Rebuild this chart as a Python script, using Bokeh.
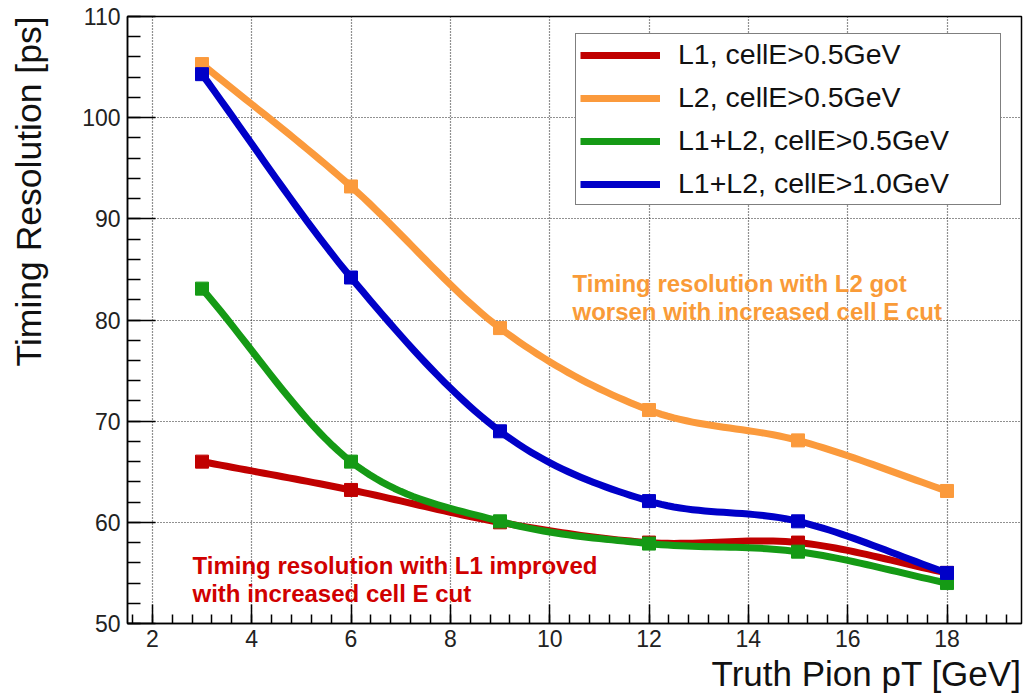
import numpy as np
from bokeh.plotting import figure
from bokeh.models import (SingleIntervalTicker, Label, Legend, LegendItem, Title)
from bokeh.embed import file_html
from bokeh.resources import INLINE

# ---------------- data ----------------
pt = [3, 6, 9, 12, 15, 18]
l1_05 = [66.0, 63.2, 60.0, 58.0, 58.0, 55.0]
l2_05 = [105.3, 93.2, 79.2, 71.1, 68.1, 63.1]
l12_05 = [83.1, 66.0, 60.1, 57.9, 57.1, 54.0]
l12_10 = [104.3, 84.2, 69.0, 62.1, 60.1, 55.0]

series_names = ["L1, cellE>0.5GeV", "L2, cellE>0.5GeV",
                "L1+L2, cellE>0.5GeV", "L1+L2, cellE>1.0GeV"]
series_vals = [l1_05, l2_05, l12_05, l12_10]
series_cols = ["#c00000", "#fb9a3c", "#159a15", "#0000c8"]

x_title = "Truth Pion pT [GeV]"
y_title = "Timing Resolution [ps]"
note_l2 = ["Timing resolution with L2 got", "worsen with increased cell E cut"]
note_l1 = ["Timing resolution with L1 improved", "with increased cell E cut"]

# ---------------- layout ----------------
W, H = 1024, 700
X0, X1 = 1.5, 19.5
Y0, Y1 = 50, 110
BL, BR, BT, BB = 127, 3, 16, 77
FW, FH = W - BL - BR, H - BT - BB
DX = (X1 - X0) / FW   # data per px
DY = (Y1 - Y0) / FH

FONT = "Liberation Sans"


def smooth(xs, ys, n=24):
    """Catmull-Rom curve through the given points (drawing only)."""
    P = np.column_stack([xs, ys]).astype(float)
    P = np.vstack([P[0] - (P[1] - P[0]), P, P[-1] + (P[-1] - P[-2])])
    out = []
    t = np.linspace(0, 1, n, endpoint=False)[:, None]
    for i in range(1, len(P) - 2):
        p0, p1, p2, p3 = P[i - 1], P[i], P[i + 1], P[i + 2]
        seg = 0.5 * ((2 * p1) + (-p0 + p2) * t +
                     (2 * p0 - 5 * p1 + 4 * p2 - p3) * t ** 2 +
                     (-p0 + 3 * p1 - 3 * p2 + p3) * t ** 3)
        out.append(seg)
    out.append(P[-2][None, :])
    out = np.vstack(out)
    return out[:, 0], out[:, 1]


p = figure(width=W, height=H, x_range=(X0, X1), y_range=(Y0, Y1),
           output_backend="svg", toolbar_location=None,
           min_border_left=BL, min_border_right=BR,
           min_border_top=BT, min_border_bottom=BB)
p.background_fill_color = "white"
p.border_fill_color = "white"
p.outline_line_color = "black"
p.outline_line_width = 1.5

# axes
p.xaxis.ticker = SingleIntervalTicker(interval=2, num_minor_ticks=5)
p.yaxis.ticker = SingleIntervalTicker(interval=10, num_minor_ticks=5)
for ax in (p.xaxis[0], p.yaxis[0]):
    ax.axis_line_color = "black"
    ax.axis_line_width = 1.5
    ax.major_tick_line_color = "black"
    ax.minor_tick_line_color = "black"
    ax.major_tick_line_width = 1.5
    ax.minor_tick_line_width = 1.5
    ax.major_tick_out = 0
    ax.minor_tick_out = 0
    ax.major_label_text_font = FONT
    ax.major_label_text_font_size = "23px"
    ax.major_label_text_color = "#222222"
p.xaxis.major_tick_in = 19
p.xaxis.minor_tick_in = 9
p.yaxis.major_tick_in = 28
p.yaxis.minor_tick_in = 13
p.xaxis.major_label_standoff = 6
p.yaxis.major_label_standoff = 7
# blank spacer label so the y title sits further out, like ROOT's
p.yaxis.axis_label = " "
p.yaxis.axis_label_text_font_size = "1px"
p.yaxis.axis_label_standoff = 27

for g in (p.xgrid[0], p.ygrid[0]):
    g.grid_line_color = "#222222"
    g.grid_line_width = 1.2
    g.grid_line_dash = "1 2"

# series
items = []
for name, vals, col in zip(series_names, series_vals, series_cols):
    sx, sy = smooth(pt, vals)
    r = p.line(sx, sy, line_color=col, line_width=7, line_join="round")
    p.scatter(pt, vals, marker="square", size=13, fill_color=col,
              line_color=col)
    items.append(LegendItem(label=name, renderers=[r]))

legend = Legend(items=items, location=(448, 418),
                label_text_font=FONT, label_text_font_size="28.5px",
                label_text_color="#111111",
                glyph_width=80, glyph_height=32, label_height=32,
                label_width=318,
                label_standoff=18, spacing=10, padding=4, margin=0,
                border_line_color="black", border_line_width=1.5,
                background_fill_color="white", background_fill_alpha=1.0)
p.add_layout(legend)

# axis titles (outside the frame, aligned to the far end like ROOT)
p.add_layout(Title(text=x_title, align="right", vertical_align="top",
                   text_font=FONT, text_font_size="35px",
                   text_font_style="normal", text_color="#111111",
                   standoff=9, offset=0), "below")
p.add_layout(Title(text=y_title, align="right", text_font=FONT,
                   text_font_size="35.5px", text_font_style="normal",
                   text_color="#111111", standoff=0, offset=0), "left")

# annotations
for i, line in enumerate(note_l2):
    p.add_layout(Label(x=X0 + 445 * DX, y=Y0 + (340 - 28 * i) * DY,
                       text=line, text_font=FONT, text_font_size="24px",
                       text_font_style="bold", text_color="#f99b38",
                       text_baseline="alphabetic"))
for i, line in enumerate(note_l1):
    p.add_layout(Label(x=X0 + 65 * DX, y=Y0 + (58 - 28 * i) * DY,
                       text=line, text_font=FONT, text_font_size="24px",
                       text_font_style="bold", text_color="#d00000",
                       text_baseline="alphabetic"))

open("out.html", "w").write(file_html(p, INLINE))
